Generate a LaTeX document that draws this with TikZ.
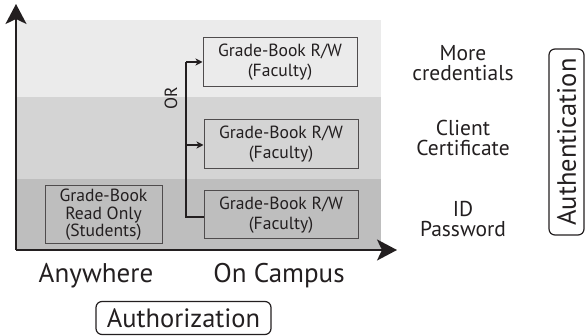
\documentclass[tikz,border=0pt]{standalone}
\usepackage{fontspec}
\setmainfont{PT Sans}
\usetikzlibrary{arrows.meta}
\definecolor{ink}{HTML}{231F20}
\definecolor{bandA}{HTML}{EBEBEB}
\definecolor{bandB}{HTML}{D4D4D4}
\definecolor{bandC}{HTML}{BEBEBE}
\begin{document}
\begin{tikzpicture}[x=1pt,y=-1pt,
  gbox/.style={draw=ink!80, line width=1pt, align=center, inner sep=0pt, text=ink,
    font=\fontsize{17.6}{20}\selectfont, minimum width=154pt, minimum height=49pt},
  sbox/.style={draw=ink!80, line width=1pt, align=center, inner sep=0pt, text=ink,
    font=\fontsize{17.6}{17.5}\selectfont, minimum width=117pt, minimum height=58pt},
  rlabel/.style={align=center, text=ink, font=\fontsize{21.5}{20}\selectfont},
  blabel/.style={text=ink, font=\fontsize{27}{28}\selectfont},
  framed/.style={draw=ink, line width=1.2pt, rounded corners=6pt, text=ink,
    font=\fontsize{26.5}{28}\selectfont, inner sep=0pt},
  axis/.style={line width=2pt, draw=ink, -{Stealth[length=20pt,width=21pt,inset=5pt]}},
  orarrow/.style={line width=1.3pt, draw=ink, -{Stealth[length=7pt,width=7pt,inset=2pt]}}]
\useasboundingbox (0,0) rectangle (585,336);
% bands
\fill[bandA] (16,20) rectangle (381,97);
\fill[bandB] (16,97) rectangle (381,179);
\fill[bandC] (16,179) rectangle (381,250);
% axes
\coordinate (o) at (16,250);
\coordinate (ytop) at (16,4);
\coordinate (xend) at (397,250);
\draw[axis] (o) -- (ytop);
\draw[axis] (o) -- (xend);
% boxes
\node[gbox] (f3) at (280,62.5) {Grade-Book R/W\\(Faculty)};
\node[gbox] (f2) at (281,144) {Grade-Book R/W\\(Faculty)};
\node[gbox, minimum height=48pt] (f1) at (281,215) {Grade-Book R/W\\(Faculty)};
\node[sbox] (st) at (103.5,215) {Grade-Book\\Read Only\\(Students)};
% OR bracket
\coordinate (b1) at (186,217);
\coordinate (b3) at (186,62);
\coordinate (b2) at (186,145);
\draw[line width=1.3pt, ink] (f1.west |- b1) -- (b1) -- (b3);
\draw[orarrow] (b3) -- (f3.west |- b3);
\draw[orarrow] (b2) -- (f2.west |- b2);
\node[rotate=90, text=ink, font=\fontsize{17.6}{17}\selectfont] (or) at (171,98) {OR};
% right labels
\node[rlabel] (l3) at (463,63) {More\\credentials};
\node[rlabel] (l2) at (463,138) {Client\\Certificate};
\node[rlabel] (l1) at (463,219) {ID\\Password};
\node[framed, rotate=90, minimum width=186pt, minimum height=35pt] (auth) at (566.5,142) {Authentication};
% bottom labels
\node[blabel] (any) at (96,276) {Anywhere};
\node[blabel] (camp) at (279,276) {On Campus};
\node[framed, minimum width=175pt, minimum height=33pt] (authz) at (183.5,318) {Authorization};
\end{tikzpicture}
\end{document}
